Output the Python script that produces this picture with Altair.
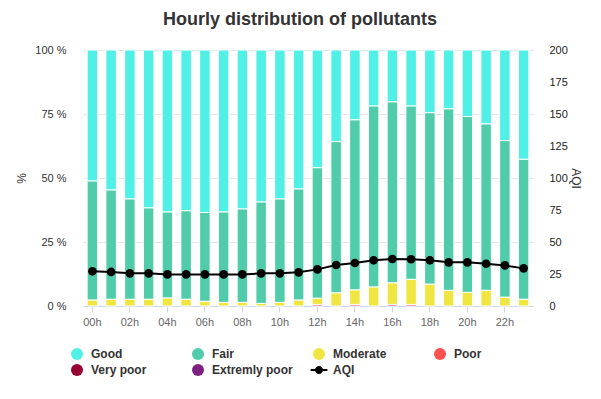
import altair as alt
import pandas as pd

hours = [f"{h:02d}h" for h in range(24)]
categories = ["Good", "Fair", "Moderate", "Poor", "Very poor", "Extremly poor"]
colors = ["#50f0e6", "#50ccaa", "#f0e641", "#ff5050", "#960032", "#7d2181"]

good = [51.2, 54.7, 58.2, 61.7, 63.3, 62.8, 63.5, 63.3, 62.1, 59.4, 58.2, 54.3,
        46.0, 35.8, 27.3, 21.9, 20.3, 21.9, 24.5, 23.0, 26.0, 28.9, 35.4, 42.7]
fair = [46.5, 42.7, 39.2, 35.7, 33.6, 34.6, 34.7, 35.3, 36.5, 39.6, 40.4, 43.4,
        51.0, 59.1, 66.45, 70.7, 70.7, 67.7, 67.0, 70.9, 68.7, 65.0, 61.2, 54.7]
moderate = [2.3, 2.6, 2.6, 2.6, 3.1, 2.6, 1.8, 1.4, 1.4, 1.0, 1.4, 2.3,
            2.4, 5.1, 5.65, 7.4, 8.4, 9.8, 8.5, 6.1, 5.3, 6.1, 3.4, 2.6]
poor = [0, 0, 0, 0, 0, 0, 0, 0, 0, 0, 0, 0,
        0.6, 0, 0.6, 0, 0.6, 0.6, 0, 0, 0, 0, 0, 0]
very_poor = [0] * 24
extremly_poor = [0] * 24
aqi = [27.1, 26.6, 25.5, 25.5, 24.7, 24.7, 24.7, 24.7, 24.7, 25.5, 25.5, 26.3,
       28.6, 32.0, 33.6, 35.7, 36.7, 36.5, 35.7, 34.1, 34.1, 33.0, 31.7, 29.4]

legend_items = categories + ["AQI"]
legend_colors = colors + ["#000000"]
aqi_symbol = ("M-1.4,-0.17H1.4V0.17H-1.4Z "
              "M-0.67,0A0.67,0.67 0 1,1 0.67,0A0.67,0.67 0 1,1 -0.67,0Z")
legend_shapes = ["circle"] * 6 + [aqi_symbol]

series = [good, fair, moderate, poor, very_poor, extremly_poor]
stack_rank = {"Poor": 0, "Very poor": 1, "Extremly poor": 2, "Moderate": 3, "Fair": 4, "Good": 5}
rows = []
for i, h in enumerate(hours):
    for cat, vals in zip(categories, series):
        if vals[i] > 0:
            rows.append({"hour": h, "cat": cat, "value": vals[i], "ord": stack_rank[cat]})
bar_df = pd.DataFrame(rows)
aqi_df = pd.DataFrame({"hour": hours, "aqi": aqi})
leg_df = pd.DataFrame({"cat": legend_items, "hour": ["00h"] * 7, "v": [0] * 7})

FONT = "Liberation Sans"

x_enc = alt.X("hour:O", sort=hours,
              scale=alt.Scale(type="band", paddingInner=0.44, paddingOuter=0.22),
              axis=alt.Axis(values=hours[::2], title=None, labelAngle=0,
                            labelColor="#666666", labelFontSize=11, domain=True,
                            domainColor="#ccd6eb", tickColor="#ccd6eb", ticks=True,
                            tickSize=6, labelPadding=4, grid=False))

bars = alt.Chart(bar_df).mark_bar(stroke="white", strokeWidth=1).encode(
    x=x_enc,
    y=alt.Y("value:Q", stack="zero", scale=alt.Scale(domain=[0, 100]),
            axis=alt.Axis(values=[0, 25, 50, 75, 100], labelExpr="datum.value + ' %'",
                          title="%", titleFontWeight="normal", titleFontSize=12,
                          titleColor="#333333", titlePadding=6,
                          labelColor="#333333", labelFontSize=11, labelPadding=17,
                          grid=True, gridColor="#e6e6e6", domain=False, ticks=False)),
    color=alt.Color("cat:N", scale=alt.Scale(domain=categories, range=colors), legend=None),
    order=alt.Order("ord:Q"),
)

y_aqi = alt.Scale(domain=[0, 200])
line = alt.Chart(aqi_df).mark_line(color="black", strokeWidth=2).encode(
    x=x_enc,
    y=alt.Y("aqi:Q", scale=y_aqi,
            axis=alt.Axis(orient="right", values=list(range(0, 201, 25)), title="AQI",
                          titleFontWeight="normal", titleFontSize=12, titleColor="#333333",
                          titlePadding=1, labelColor="#222222", labelFontSize=11,
                          labelPadding=16, grid=False, domain=False, ticks=False)),
)
points = alt.Chart(aqi_df).mark_circle(color="black", size=75, opacity=1).encode(
    x=x_enc,
    y=alt.Y("aqi:Q", scale=y_aqi, axis=None),
)

leg = alt.Legend(title=None, orient="none", legendX=-12, legendY=298, columns=4,
                 direction="horizontal", gridAlign="all", columnPadding=17, rowPadding=4,
                 symbolSize=144, symbolOpacity=1, symbolStrokeWidth=0,
                 labelFont=FONT, labelFontSize=12, labelFontWeight="bold",
                 labelColor="#333333", labelOffset=8, padding=0)
legend_layer = alt.Chart(leg_df).mark_point(filled=True, opacity=0).encode(
    x=x_enc,
    y=alt.Y("v:Q", axis=None),
    color=alt.Color("cat:N", scale=alt.Scale(domain=legend_items, range=legend_colors), legend=leg),
    shape=alt.Shape("cat:N", scale=alt.Scale(domain=legend_items, range=legend_shapes), legend=leg),
)

chart = alt.layer(bars, line, points, legend_layer).resolve_scale(
    y="independent", color="independent", shape="independent"
).properties(
    width=450, height=256,
    padding={"left": 75, "top": 42, "right": 60, "bottom": 85},
    autosize=alt.AutoSizeParams(type="none"),
    title=alt.TitleParams("Hourly distribution of pollutants", fontSize=18, font=FONT,
                          fontWeight="bold", color="#333333", anchor="middle",
                          frame="group", dx=-8, offset=15),
).configure(font=FONT).configure_view(strokeWidth=0, stroke="transparent")

chart.save("out.html", embed_options={"renderer": "svg", "actions": False})
